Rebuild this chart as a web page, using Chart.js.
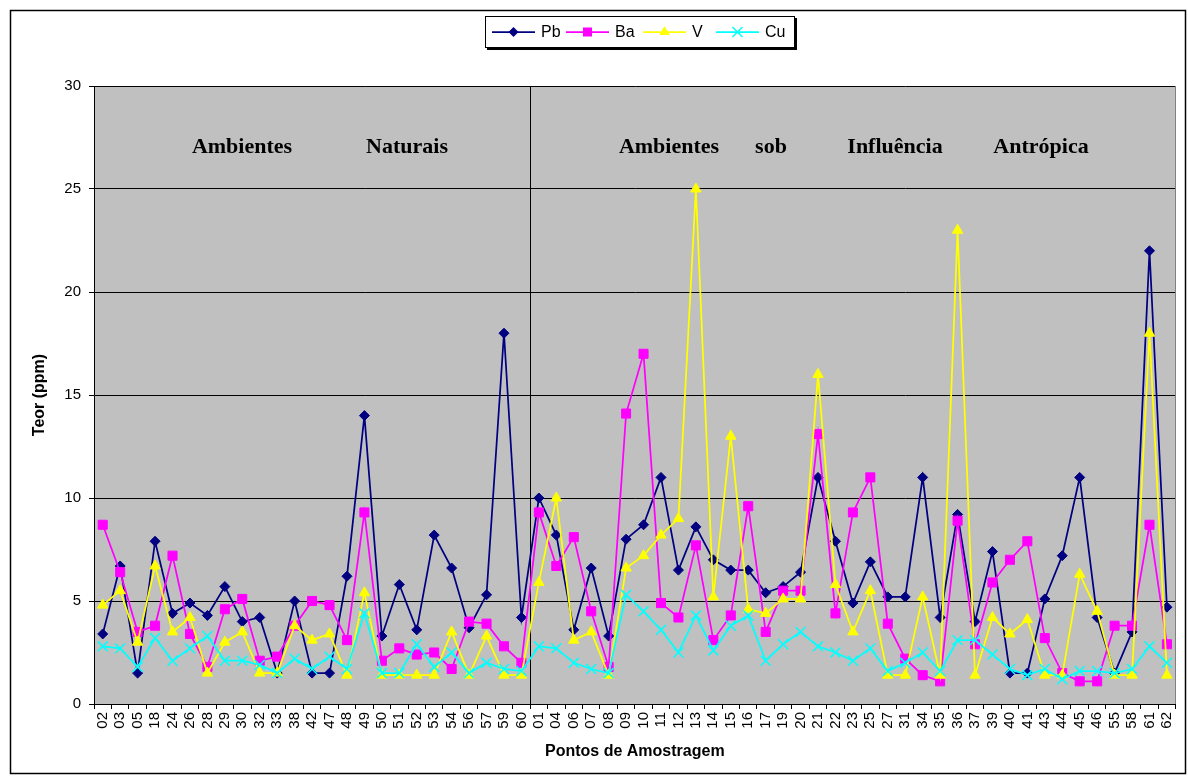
<!DOCTYPE html>
<html>
<head>
<meta charset="utf-8">
<script src="https://cdn.jsdelivr.net/npm/chart.js@4/dist/chart.umd.min.js"></script>
<style>
    html, body { margin: 0; padding: 0; background: #fff; }
    #box { width: 1188px; height: 783px; }
</style>
</head>
<body>
<div id="box"><canvas id="teorChart" width="1188" height="783"></canvas></div>
<script>
// pontos de amostragem: 25 naturais + 37 sob influência antrópica
const pontos = ['02', '03', '05', '18', '24', '26', '28', '29', '30', '32', '33', '38', '42', '47', '48', '49', '50', '51', '52', '53', '54', '56', '57', '59', '60',
    '01', '04', '06', '07', '08', '09', '10', '11', '12', '13', '14', '15', '16', '17', '19', '20', '21', '22', '23', '25', '27', '31', '34', '35', '36', '37', '39', '40', '41', '43', '44', '45', '46', '55', '58', '61', '62'];

const pb = [3.4, 6.7, 1.5, 7.9, 4.4, 4.9, 4.3, 5.7, 4.0, 4.2, 1.5, 5.0, 1.5, 1.5, 6.2, 14.0, 3.3, 5.8, 3.6, 8.2, 6.6, 3.7, 5.3, 18.0, 4.2,
    10.0, 8.2, 3.6, 6.6, 3.3, 8.0, 8.7, 11.0, 6.5, 8.6, 7.0, 6.5, 6.5, 5.4, 5.7, 6.4, 11.0, 7.9, 4.9, 6.9, 5.2, 5.2, 11.0, 4.2, 9.2, 4.0, 7.4, 1.5, 1.5, 5.1, 7.2, 11.0, 4.2, 1.5, 3.5, 22.0, 4.7];

const ba = [8.7, 6.4, 3.5, 3.8, 7.2, 3.4, 1.8, 4.6, 5.1, 2.1, 2.3, 3.8, 5.0, 4.8, 3.1, 9.3, 2.1, 2.7, 2.4, 2.5, 1.7, 4.0, 3.9, 2.8, 2.0,
    9.3, 6.7, 8.1, 4.5, 1.8, 14.1, 17.0, 4.9, 4.2, 7.7, 3.1, 4.3, 9.6, 3.5, 5.5, 5.5, 13.1, 4.4, 9.3, 11.0, 3.9, 2.2, 1.4, 1.1, 8.9, 2.9, 5.9, 7.0, 7.9, 3.2, 1.5, 1.1, 1.1, 3.8, 3.8, 8.7, 2.9];

const v = [4.8, 5.5, 3.0, 6.7, 3.5, 4.2, 1.5, 3.0, 3.5, 1.5, 1.5, 3.8, 3.1, 3.4, 1.4, 5.4, 1.4, 1.4, 1.4, 1.4, 3.5, 1.4, 3.3, 1.4, 1.4,
    5.9, 10.0, 3.1, 3.5, 1.4, 6.6, 7.2, 8.2, 9.0, 25.0, 5.2, 13.0, 4.6, 4.4, 5.1, 5.1, 16.0, 5.8, 3.5, 5.5, 1.4, 1.4, 5.2, 1.4, 23.0, 1.4, 4.2, 3.4, 4.1, 1.4, 1.4, 6.3, 4.5, 1.4, 1.4, 18.0, 1.4];

const cu = [2.8, 2.7, 1.8, 3.2, 2.1, 2.7, 3.3, 2.1, 2.1, 1.9, 1.5, 2.2, 1.7, 2.3, 1.7, 4.4, 1.5, 1.5, 2.9, 1.8, 2.5, 1.5, 2.0, 1.7, 1.6,
    2.8, 2.7, 2.0, 1.7, 1.5, 5.3, 4.5, 3.6, 2.5, 4.3, 2.6, 3.8, 4.3, 2.1, 2.9, 3.5, 2.8, 2.5, 2.1, 2.7, 1.6, 2.0, 2.5, 1.6, 3.1, 3.1, 2.4, 1.7, 1.4, 1.7, 1.2, 1.6, 1.6, 1.5, 1.7, 2.8, 2.0];

const yMax = 30;
const yStep = 5;
const nNaturais = 25;

const serif = '"Liberation Serif", "Times New Roman", serif';
const sans = '"Liberation Sans", Arial, sans-serif';

// little marker shapes for the legend (same look as the chart points)
function marker(ctx, style, x, y, color) {
    ctx.save();
    ctx.fillStyle = color;
    ctx.strokeStyle = color;
    ctx.lineWidth = 1.5;
    ctx.beginPath();
    if (style === 'rectRot') {
        ctx.moveTo(x, y - 5); ctx.lineTo(x + 5, y); ctx.lineTo(x, y + 5); ctx.lineTo(x - 5, y);
        ctx.closePath(); ctx.fill();
    } else if (style === 'rect') {
        ctx.rect(x - 4.5, y - 4.5, 9, 9); ctx.fill();
    } else if (style === 'triangle') {
        ctx.moveTo(x, y - 6); ctx.lineTo(x + 5.2, y + 3); ctx.lineTo(x - 5.2, y + 3);
        ctx.closePath(); ctx.fill();
    } else {
        ctx.moveTo(x - 5, y - 5); ctx.lineTo(x + 5, y + 5);
        ctx.moveTo(x + 5, y - 5); ctx.lineTo(x - 5, y + 5);
        ctx.stroke();
    }
    ctx.restore();
}

const decor = {
    id: 'decor',
    beforeDraw(chart) {
        let ctx = chart.ctx;
        let a = chart.chartArea;
        ctx.save();
        ctx.fillStyle = '#fff';
        ctx.fillRect(0, 0, chart.width, chart.height);
        // chart frame
        ctx.strokeStyle = '#000';
        ctx.lineWidth = 1.5;
        ctx.strokeRect(10.5, 10.5, 1175, 763);
        // grey plot area
        ctx.fillStyle = '#C0C0C0';
        ctx.fillRect(a.left, a.top, a.right - a.left, a.bottom - a.top);
        ctx.restore();
    },
    beforeDatasetsDraw(chart) {
        let ctx = chart.ctx;
        let a = chart.chartArea;
        let xs = chart.scales.x;
        ctx.save();
        // plot border on the right
        ctx.strokeStyle = '#808080';
        ctx.lineWidth = 1;
        ctx.beginPath();
        ctx.moveTo(Math.round(a.right) - 0.5, a.top);
        ctx.lineTo(Math.round(a.right) - 0.5, a.bottom);
        ctx.stroke();

        // separation between the two groups
        let xm = Math.round((xs.getPixelForValue(nNaturais - 1) + xs.getPixelForValue(nNaturais)) / 2) + 0.5;
        ctx.strokeStyle = '#000';
        ctx.beginPath();
        ctx.moveTo(xm, a.top);
        ctx.lineTo(xm, a.bottom);
        ctx.stroke();

        // group names
        ctx.fillStyle = '#000';
        ctx.font = 'bold 22px ' + serif;
        ctx.textAlign = 'center';
        ctx.textBaseline = 'alphabetic';
        let words = [['Ambientes', 242], ['Naturais', 407], ['Ambientes', 669], ['sob', 771], ['Influência', 895], ['Antrópica', 1041]];
        words.forEach(w => ctx.fillText(w[0], w[1], 153));
        ctx.restore();
    },
    afterDraw(chart) {
        let ctx = chart.ctx;
        let a = chart.chartArea;
        ctx.save();

        // axis titles
        ctx.fillStyle = '#000';
        ctx.font = 'bold 16px ' + sans;
        ctx.textAlign = 'center';
        ctx.textBaseline = 'middle';
        ctx.fillText('Pontos de Amostragem', (a.left + a.right) / 2, 752);
        ctx.translate(40, (a.top + a.bottom) / 2);
        ctx.rotate(-Math.PI / 2);
        ctx.fillText('Teor (ppm)', 0, 0);
        ctx.setTransform(1, 0, 0, 1, 0, 0);

        // legend box with shadow
        ctx.fillStyle = '#000';
        ctx.fillRect(487, 18, 310, 32);
        ctx.fillStyle = '#fff';
        ctx.fillRect(485, 16, 310, 32);
        ctx.strokeStyle = '#000';
        ctx.lineWidth = 1;
        ctx.strokeRect(485.5, 16.5, 309, 31);

        ctx.font = '16px ' + sans;
        ctx.textAlign = 'left';
        ctx.textBaseline = 'middle';
        chart.data.datasets.forEach((ds, i) => {
            let x0 = [492, 566, 643, 716][i];
            let ly = 32;
            ctx.strokeStyle = ds.borderColor;
            ctx.lineWidth = 1.75;
            ctx.beginPath();
            ctx.moveTo(x0, ly);
            ctx.lineTo(x0 + 43, ly);
            ctx.stroke();
            marker(ctx, ds.pointStyle, x0 + 21.5, ly, ds.borderColor);
            ctx.fillStyle = '#000';
            ctx.fillText(ds.label, x0 + 49, ly + 1);
        });
        ctx.restore();
    }
};

function serie(label, data, color, style, radius, order) {
    return {
        label: label,
        data: data,
        borderColor: color,
        backgroundColor: color,
        borderWidth: 1.75,
        pointStyle: style,
        pointRadius: radius,
        pointHoverRadius: radius,
        pointBorderWidth: style === 'crossRot' ? 1.5 : 1,
        tension: 0,
        order: order
    };
}

let ctx = document.getElementById('teorChart');
let teorChart = new Chart(ctx, {
    type: 'line',
    data: {
        labels: pontos,
        datasets: [
            serie('Pb', pb, '#000080', 'rectRot', 5, 4),
            serie('Ba', ba, '#FF00FF', 'rect', 6.4, 3),
            serie('V', v, '#FFFF00', 'triangle', 6, 2),
            serie('Cu', cu, '#00FFFF', 'crossRot', 7, 1)
        ]
    },
    plugins: [decor],
    options: {
        responsive: false,
        animation: false,
        devicePixelRatio: 1,
        layout: { padding: { left: 0, top: 86, right: 6, bottom: 0 } },
        plugins: {
            legend: { display: false },
            tooltip: { enabled: false }
        },
        scales: {
            x: {
                offset: true,
                grid: {
                    display: true,
                    offset: true,
                    drawOnChartArea: false,
                    drawTicks: true,
                    tickLength: 5,
                    color: '#000',
                    tickColor: '#000'
                },
                border: { display: true, color: '#000', width: 1 },
                ticks: {
                    autoSkip: false,
                    minRotation: 90,
                    maxRotation: 90,
                    padding: 3,
                    color: '#000',
                    font: { family: sans, size: 15 }
                },
                afterFit(scale) { scale.height = 79; }
            },
            y: {
                min: 0,
                max: yMax,
                grid: { color: '#000', tickColor: '#000', tickLength: 5, drawTicks: true },
                border: { display: true, color: '#000', width: 1 },
                ticks: {
                    stepSize: yStep,
                    padding: 8,
                    color: '#000',
                    font: { family: sans, size: 15 }
                },
                afterFit(scale) { scale.width = 94; }
            }
        }
    }
});
</script>
</body>
</html>
